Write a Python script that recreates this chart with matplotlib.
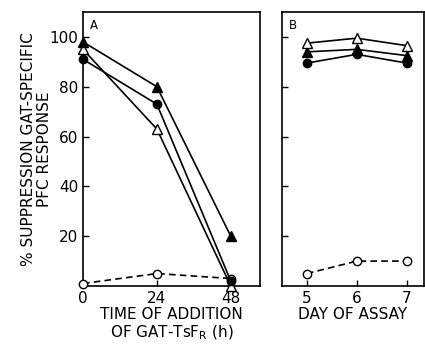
import matplotlib.pyplot as plt

# panel A: time of addition (h)
hours = [0, 24, 48]
a_tri_filled = [98, 80, 20]
a_circ_filled = [91, 73, 2]
a_tri_open = [95, 63, 0]
a_circ_open = [1, 5, 3]

# panel B: day of assay
days = [5, 6, 7]
b_tri_open = [97.5, 99.5, 96.5]
b_tri_filled = [94, 95, 92.5]
b_circ_filled = [89.5, 93, 89.5]
b_circ_open = [5, 10, 10]

yticks = [20, 40, 60, 80, 100]

plt.rcParams["font.family"] = "DejaVu Sans"
plt.rcParams["font.size"] = 10

fig = plt.figure(figsize=(4.25, 3.5), dpi=100)
ax_a = fig.add_axes([83 / 425, 1 - 286 / 350, 177 / 425, 274 / 350])
ax_b = fig.add_axes([282 / 425, 1 - 286 / 350, 142 / 425, 274 / 350])


def series(ax, x, y, marker, filled, dashed=False):
    ax.plot(x, y, color="black", lw=1.2, ls=(0, (4, 2.5)) if dashed else "-",
            marker=marker, ms=7 if marker == "^" else 6,
            mfc="black" if filled else "white", mec="black", mew=1.0,
            clip_on=False, zorder=3)


series(ax_a, hours, a_circ_open, "o", False, dashed=True)
series(ax_a, hours, a_tri_open, "^", False)
series(ax_a, hours, a_circ_filled, "o", True)
series(ax_a, hours, a_tri_filled, "^", True)

series(ax_b, days, b_circ_open, "o", False, dashed=True)
series(ax_b, days, b_circ_filled, "o", True)
series(ax_b, days, b_tri_filled, "^", True)
series(ax_b, days, b_tri_open, "^", False)

for ax in (ax_a, ax_b):
    ax.set_ylim(0, 110)
    ax.set_yticks(yticks)
    ax.tick_params(direction="in", length=4, width=1, labelsize=11)
    for s in ax.spines.values():
        s.set_linewidth(1.2)

ax_a.set_xlim(0, 57.5)
ax_a.set_xticks(hours)
ax_a.set_ylabel("% SUPPRESSION GAT-SPECIFIC\nPFC RESPONSE", fontsize=11,
                labelpad=-2, linespacing=1.05)
ax_a.set_xlabel("TIME OF ADDITION\nOF GAT-TsF$_\\mathregular{R}$ (h)", fontsize=11,
                labelpad=1, linespacing=1.1)
ax_a.text(0.04, 0.975, "A", transform=ax_a.transAxes, fontsize=8.5, va="top")

ax_b.set_xlim(4.5, 7.35)
ax_b.set_xticks(days)
ax_b.set_yticklabels([])
ax_b.set_xlabel("DAY OF ASSAY", fontsize=11, labelpad=1)
ax_b.text(0.05, 0.975, "B", transform=ax_b.transAxes, fontsize=8.5, va="top")

fig.savefig("out.png", dpi=100)
